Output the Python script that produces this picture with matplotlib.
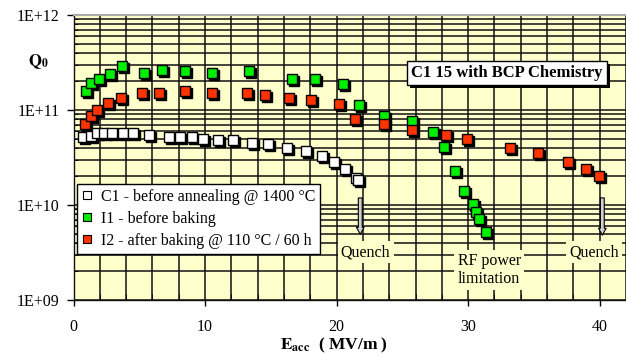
import numpy as np
import matplotlib as mpl
import matplotlib.pyplot as plt
import matplotlib.patches as mpatches
import matplotlib.transforms as mtransforms
from matplotlib.ticker import FixedLocator, FuncFormatter, MultipleLocator

mpl.rcParams.update({
    'font.family': 'serif',
    'font.serif': ['Liberation Serif', 'DejaVu Serif'],
    'mathtext.fontset': 'stix',
    'figure.facecolor': 'white',
})

# C1 - before annealing
C1_E = [0.75, 1.31, 1.76, 2.32, 2.95, 3.74, 4.55, 5.74, 7.26, 8.10, 9.01, 9.83,
        10.95, 12.11, 13.60, 14.81, 16.26, 17.66, 18.87, 19.81, 20.65, 21.46, 21.66]
C1_Q = [5.16e10, 5.3e10, 5.7e10, 5.7e10, 5.7e10, 5.7e10, 5.7e10, 5.42e10, 5.24e10,
        5.16e10, 5.16e10, 4.99e10, 4.83e10, 4.83e10, 4.53e10, 4.35e10, 4.01e10,
        3.70e10, 3.28e10, 2.84e10, 2.42e10, 1.92e10, 1.83e10]

# I1 - before baking
I1_E = [0.95, 1.31, 1.94, 2.78, 3.71, 5.36, 6.73, 8.46, 10.51, 13.35, 16.59, 18.37,
        20.47, 21.67, 23.59, 25.74, 27.36, 28.19, 29.01, 29.67, 30.36, 30.63, 30.85, 31.32]
I1_Q = [1.60e11, 1.91e11, 2.13e11, 2.38e11, 2.93e11, 2.43e11, 2.64e11, 2.57e11,
        2.45e11, 2.57e11, 2.13e11, 2.13e11, 1.90e11, 1.12e11, 8.71e10, 7.66e10,
        5.87e10, 4.03e10, 2.28e10, 1.42e10, 1.02e10, 8.4e9, 7.1e9, 5.2e9]

# I2 - after baking
I2_E = [0.87, 1.31, 1.76, 2.65, 3.59, 5.19, 6.52, 8.48, 10.51, 13.22, 14.56, 16.41,
        18.06, 20.21, 21.42, 23.59, 25.74, 28.33, 29.92, 33.17, 35.34, 37.58, 38.96, 39.91]
I2_Q = [7.13e10, 8.7e10, 9.9e10, 1.18e11, 1.33e11, 1.52e11, 1.52e11, 1.58e11,
        1.52e11, 1.52e11, 1.44e11, 1.35e11, 1.28e11, 1.16e11, 7.98e10, 7.04e10,
        6.19e10, 5.46e10, 4.98e10, 4.0e10, 3.50e10, 2.82e10, 2.38e10, 2.01e10]

SERIES = [
    (C1_E, C1_Q, '#ffffff', 'C1 - before annealing @ 1400 °C'),
    (I1_E, I1_Q, '#00ee00', 'I1 - before baking'),
    (I2_E, I2_Q, '#ff3300', 'I2 - after baking @ 110 °C / 60 h'),
]

BG = '#ffffcc'
FS = 11.5

fig = plt.figure(figsize=(6.26, 3.55), dpi=100)
ax = fig.add_axes([73.5 / 626, 55 / 355, 552.5 / 626, 285 / 355])
ax.set_facecolor(BG)
ax.set_yscale('log')
ax.set_xlim(0, 42)
ax.set_ylim(1e9, 1e12)

# grid: every 2 MV/m, every log minor
ax.xaxis.set_major_locator(FixedLocator([0, 10, 20, 30, 40]))
ax.xaxis.set_minor_locator(MultipleLocator(2))
ax.yaxis.set_major_locator(FixedLocator([1e9, 1e10, 1e11, 1e12]))
ax.yaxis.set_minor_locator(mpl.ticker.LogLocator(base=10, subs=np.arange(2, 10)))
ax.yaxis.set_minor_formatter(mpl.ticker.NullFormatter())
ax.yaxis.set_major_formatter(FuncFormatter(lambda v, p: '1E+%02d' % round(np.log10(v))))
ax.grid(True, which='both', color='#111111', lw=1.1)
ax.set_axisbelow(True)

ax.tick_params(axis='y', which='major', direction='out', length=5, width=1, pad=5,
               labelsize=FS)
ax.tick_params(axis='y', which='minor', direction='in', length=3)
ax.tick_params(axis='x', which='major', direction='out', length=4, width=1, pad=10,
               labelsize=FS)
ax.tick_params(axis='x', which='minor', direction='in', length=4)

ax.spines['top'].set_color('#aaaaaa')
ax.spines['top'].set_linewidth(1.5)
ax.spines['right'].set_visible(False)
for s in ('left', 'bottom'):
    ax.spines[s].set_color('#111111')
    ax.spines[s].set_linewidth(1.0)

shadow = mtransforms.offset_copy(ax.transData, fig=fig, x=2, y=-2, units='dots')
handles = []
for e, q, col, lab in SERIES:
    ax.plot(e, q, 's', ms=6.5, mfc='black', mec='black', transform=shadow,
            zorder=3, clip_on=False)
    ax.plot(e, q, 's', ms=6.5, mfc=col, mec='black', mew=1.0, zorder=4,
            clip_on=False)
    h, = ax.plot([], [], 's', ms=6, mfc=col, mec='black', mew=0.8, label=lab)
    handles.append(h)

leg = ax.legend(handles=handles, loc='upper left', bbox_to_anchor=(0.006, 0.407),
                borderaxespad=0, fontsize=FS, frameon=True, fancybox=False,
                edgecolor='black', framealpha=1, handlelength=0.7,
                handletextpad=0.5, labelspacing=0.38, borderpad=0.3)
leg.get_frame().set_linewidth(1.0)
leg.set_zorder(6)

# boxed title, drop shadow added after layout
title = ax.text(0.785, 0.796, 'C1 15 with BCP Chemistry', transform=ax.transAxes,
                ha='center', va='center', fontsize=12, fontweight='bold', zorder=8,
                bbox=dict(boxstyle='square,pad=0.25', fc='white', ec='black', lw=1.0))

# annotations
note_box = dict(boxstyle='square,pad=0.2', fc=BG, ec='none')
ax.text(22.2, 3.2e9, 'Quench', ha='center', va='center', fontsize=FS,
        bbox=note_box, zorder=5)
ax.text(31.6, 2.07e9, 'RF power\nlimitation', ha='center', va='center',
        fontsize=FS, linespacing=1.2, bbox=note_box, zorder=5)
ax.text(39.6, 3.2e9, 'Quench', ha='center', va='center', fontsize=FS,
        bbox=note_box, zorder=5)

arrow_kw = dict(arrowstyle='simple,head_length=0.5,head_width=0.55,tail_width=0.28',
                fc='#d0d0d0', ec='black', lw=0.8)
ax.annotate('', xy=(21.8, 4.6e9), xytext=(21.8, 1.27e10), arrowprops=arrow_kw,
            zorder=5)
ax.annotate('', xy=(40.2, 4.5e9), xytext=(40.2, 1.27e10), arrowprops=arrow_kw,
            zorder=5)

ax.text(0.4715, -0.158, r'$\mathbf{E}_{\mathbf{acc}}$' + '  ( MV/m )',
        transform=ax.transAxes, ha='center', va='center', fontsize=12.5,
        fontweight='bold')
fig.text(38 / 626, 1 - 62 / 355, r'$\mathbf{Q}_{\mathbf{0}}$', ha='center',
         va='center', fontsize=12)

fig.canvas.draw()
bb = title.get_bbox_patch().get_window_extent()
ax.add_patch(mpatches.Rectangle((bb.x0 + 3, bb.y0 - 3), bb.width, bb.height,
                                transform=mtransforms.IdentityTransform(),
                                fc='black', ec='none', zorder=7, clip_on=False))

fig.savefig('out.png', dpi=100)
